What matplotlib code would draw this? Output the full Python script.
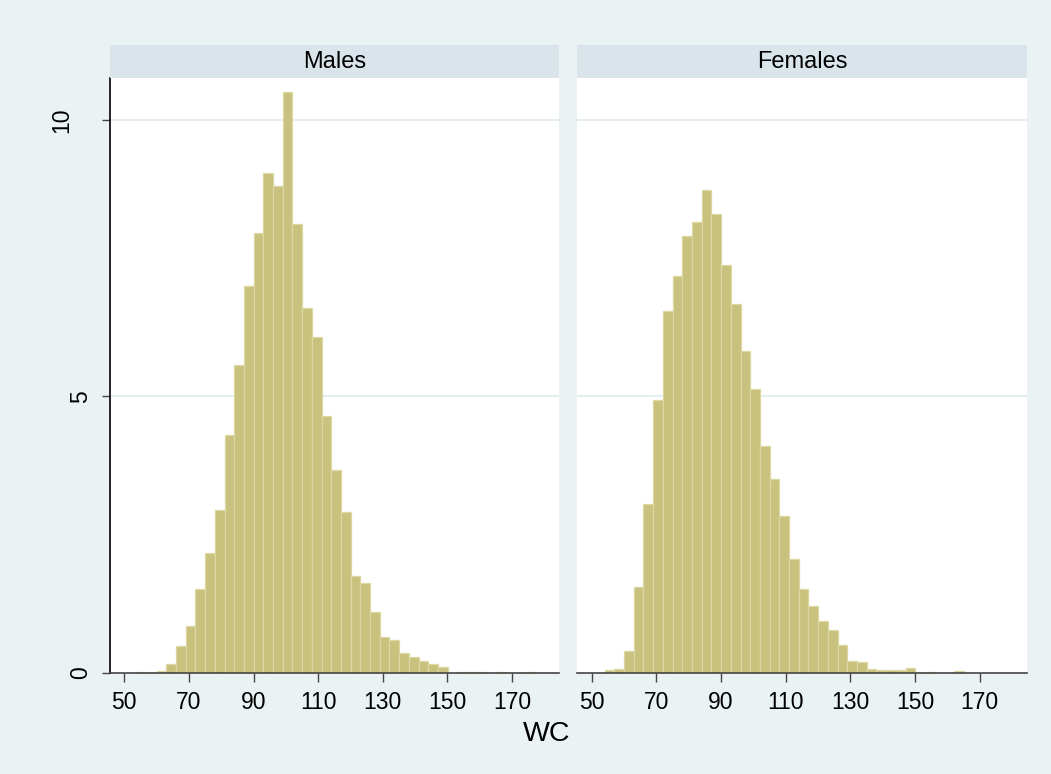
import numpy as np
import matplotlib
matplotlib.use("Agg")
import matplotlib.pyplot as plt
import matplotlib.transforms as mtransforms

plt.rcParams['font.family'] = ['Liberation Sans', 'DejaVu Sans']

# === datos (densidad en %, ancho de clase 3) ===
panel_names = ["Males", "Females"]
bin_start = 54.05
bin_width = 3.0

males = [0.02, 0.0, 0.03, 0.16, 0.48, 0.84, 1.51, 2.17, 2.94, 4.29,
         5.57, 7.00, 7.95, 9.03, 8.81, 10.51, 8.12, 6.59, 6.07, 4.65,
         3.66, 2.90, 1.75, 1.62, 1.10, 0.64, 0.59, 0.35, 0.29, 0.22,
         0.16, 0.11, 0.0, 0.01, 0.01, 0.01, 0.0, 0.01, 0.0, 0.0, 0.01]

females = [0.05, 0.07, 0.40, 1.55, 3.06, 4.93, 6.55, 7.18, 7.90, 8.16,
           8.73, 8.29, 7.38, 6.66, 5.81, 5.13, 4.10, 3.51, 2.84, 2.05,
           1.51, 1.20, 0.94, 0.77, 0.51, 0.22, 0.19, 0.07, 0.05, 0.04,
           0.05, 0.08, 0.0, 0.02, 0.0, 0.0, 0.03]

x_ticks = [50, 70, 90, 110, 130, 150, 170]
y_ticks = [0, 5, 10]
x_label = "WC"

# === colores estilo Stata s2color ===
bg = "#EAF2F3"
strip_col = "#D9E5EA"
bar_col = "#C9C17E"
bar_edge = "#DDD8A3"
grid_col = "#E4EDEF"

W, H = 1051, 774
fig = plt.figure(figsize=(W / 100, H / 100), dpi=100, facecolor=bg)

panels = [(110, 559.3), (577.3, 1027)]
y_top, y_bot = 78.3, 672.7
strip_top = 44.7

for i, (name, vals) in enumerate(zip(panel_names, [males, females])):
    x0, x1 = panels[i]
    ax = fig.add_axes([x0 / W, 1 - y_bot / H, (x1 - x0) / W, (y_bot - y_top) / H])
    ax.set_facecolor("white")
    lefts = bin_start + bin_width * np.arange(len(vals))
    ax.bar(lefts, vals, width=bin_width, align="edge", color=bar_col,
           edgecolor=bar_edge, linewidth=0.9, zorder=2)
    ax.set_xlim(45.6, 184.6)
    ax.set_ylim(0, 10.75)
    ax.set_xticks(x_ticks)
    ax.set_yticks(y_ticks)
    for y in y_ticks[1:]:
        ax.axhline(y, color=grid_col, lw=1.4, zorder=1)
    ax.tick_params(axis="x", length=6.5, width=1, color="#444444", pad=7,
                   labelsize=16.5)
    for s in ["top", "right"]:
        ax.spines[s].set_visible(False)
    ax.spines["bottom"].set_color("#444444")
    ax.spines["bottom"].set_linewidth(1.2)
    if i == 0:
        ax.spines["left"].set_color("black")
        ax.spines["left"].set_linewidth(1.2)
        ax.tick_params(axis="y", length=6, width=1, color="#444444", pad=7,
                       labelsize=16.5)
        ax.set_yticklabels([str(v) for v in y_ticks], rotation=90, va="center")
        fig.canvas.draw()
        for lab in ax.get_yticklabels():
            extra = (len(lab.get_text()) - 1) * 19 / 100
            lab.set_transform(lab.get_transform() +
                              mtransforms.ScaledTranslation(-extra, 0, fig.dpi_scale_trans))
    else:
        ax.spines["left"].set_visible(False)
        ax.tick_params(axis="y", left=False, labelleft=False)

    # tira del titulo del panel
    sax = fig.add_axes([x0 / W, 1 - (y_top - 0.6) / H, (x1 - x0) / W, (y_top - 0.6 - strip_top) / H])
    sax.set_facecolor(strip_col)
    sax.set_xticks([])
    sax.set_yticks([])
    for s in sax.spines.values():
        s.set_visible(False)
    sax.text(0.5, 0.47, name, ha="center", va="center", fontsize=17,
             transform=sax.transAxes)

fig.text(547 / W, 1 - 734 / H, x_label, ha="center", va="center", fontsize=20.5)

fig.savefig("out.png", dpi=100, facecolor=bg)
